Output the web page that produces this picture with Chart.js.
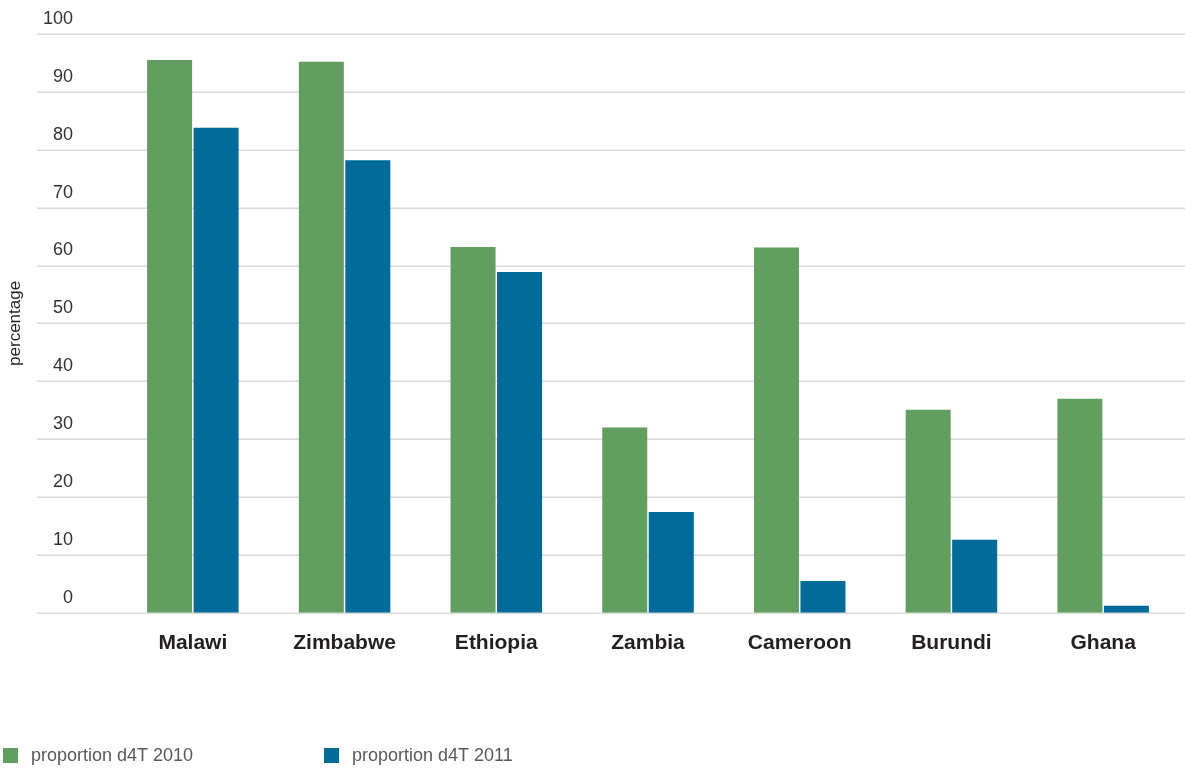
<!DOCTYPE html>
<html>
<head>
<meta charset="utf-8">
<script src="https://cdn.jsdelivr.net/npm/chart.js@4.4.1/dist/chart.umd.min.js"></script>
<style>
  html, body { margin: 0; padding: 0; background: #fff; }
  #wrap { width: 1185px; height: 769px; }
</style>
</head>
<body>
<div id="wrap"><canvas id="chart" width="1185" height="769"></canvas></div>
<script>
const categories = ['Malawi', 'Zimbabwe', 'Ethiopia', 'Zambia', 'Cameroon', 'Burundi', 'Ghana']
const d4t2010 = [95.5, 95.2, 63.2, 32.0, 63.1, 35.1, 37.0]
const d4t2011 = [83.8, 78.2, 58.9, 17.4, 5.5, 12.6, 1.2]
const seriesLabels = ['proportion d4T 2010', 'proportion d4T 2011']
const yTicks = [0, 10, 20, 30, 40, 50, 60, 70, 80, 90, 100]

const GREEN = '#629e5f'
const BLUE = '#006a99'
const SANS = "'Liberation Sans', Arial, sans-serif"

// gridlines run past the plot area on both sides, so draw them here
const wideGrid = {
  id: 'wideGrid',
  beforeDatasetsDraw(chart) {
    const {ctx} = chart
    const y = chart.scales.y
    ctx.save()
    ctx.strokeStyle = '#dadada'
    ctx.lineWidth = 1.5
    yTicks.forEach((v) => {
      const py = Math.round(y.getPixelForValue(v)) + 0.25
      ctx.beginPath()
      ctx.moveTo(37, py)
      ctx.lineTo(chart.width, py)
      ctx.stroke()
    })
    ctx.restore()
  }
}

const bottomLegend = {
  id: 'bottomLegend',
  afterDraw(chart) {
    const {ctx} = chart
    const xs = [3, 324]
    ctx.save()
    ctx.font = '18px ' + SANS
    ctx.textBaseline = 'middle'
    chart.data.datasets.forEach((ds, i) => {
      ctx.fillStyle = ds.backgroundColor
      ctx.fillRect(xs[i], 748, 15, 15)
      ctx.fillStyle = '#58595b'
      ctx.fillText(ds.label, xs[i] + 28, 756)
    })
    ctx.restore()
  }
}

const ctx = document.getElementById('chart').getContext('2d')

new Chart(ctx, {
  type: 'bar',
  data: {
    labels: categories,
    datasets: [
      {label: seriesLabels[0], data: d4t2010, backgroundColor: GREEN},
      {label: seriesLabels[1], data: d4t2011, backgroundColor: BLUE}
    ]
  },
  options: {
    responsive: false,
    animation: false,
    devicePixelRatio: 1,
    datasets: {
      bar: {categoryPercentage: 0.613, barPercentage: 0.968}
    },
    layout: {
      padding: {top: 34, right: 6, bottom: 95, left: 0}
    },
    plugins: {
      legend: {display: false},
      tooltip: {enabled: false}
    },
    scales: {
      x: {
        grid: {display: false, drawTicks: false},
        border: {display: false},
        ticks: {
          padding: 18,
          color: '#231f20',
          font: {family: SANS, size: 21, weight: 'bold'}
        }
      },
      y: {
        min: 0,
        max: 100,
        afterFit(scale) {
          scale.width = 117
          scale.paddingTop = 0
          scale.paddingBottom = 0
        },
        afterBuildTicks(scale) { scale.ticks = yTicks.map((v) => ({value: v})) },
        grid: {display: false, drawTicks: false},
        border: {display: false},
        ticks: {
          padding: 44,
          labelOffset: -15,
          color: '#333333',
          font: {family: SANS, size: 18}
        },
        title: {
          display: true,
          text: 'percentage',
          color: '#231f20',
          padding: {top: 5, bottom: 0},
          font: {family: SANS, size: 17}
        }
      }
    }
  },
  plugins: [wideGrid, bottomLegend]
})
</script>
</body>
</html>
